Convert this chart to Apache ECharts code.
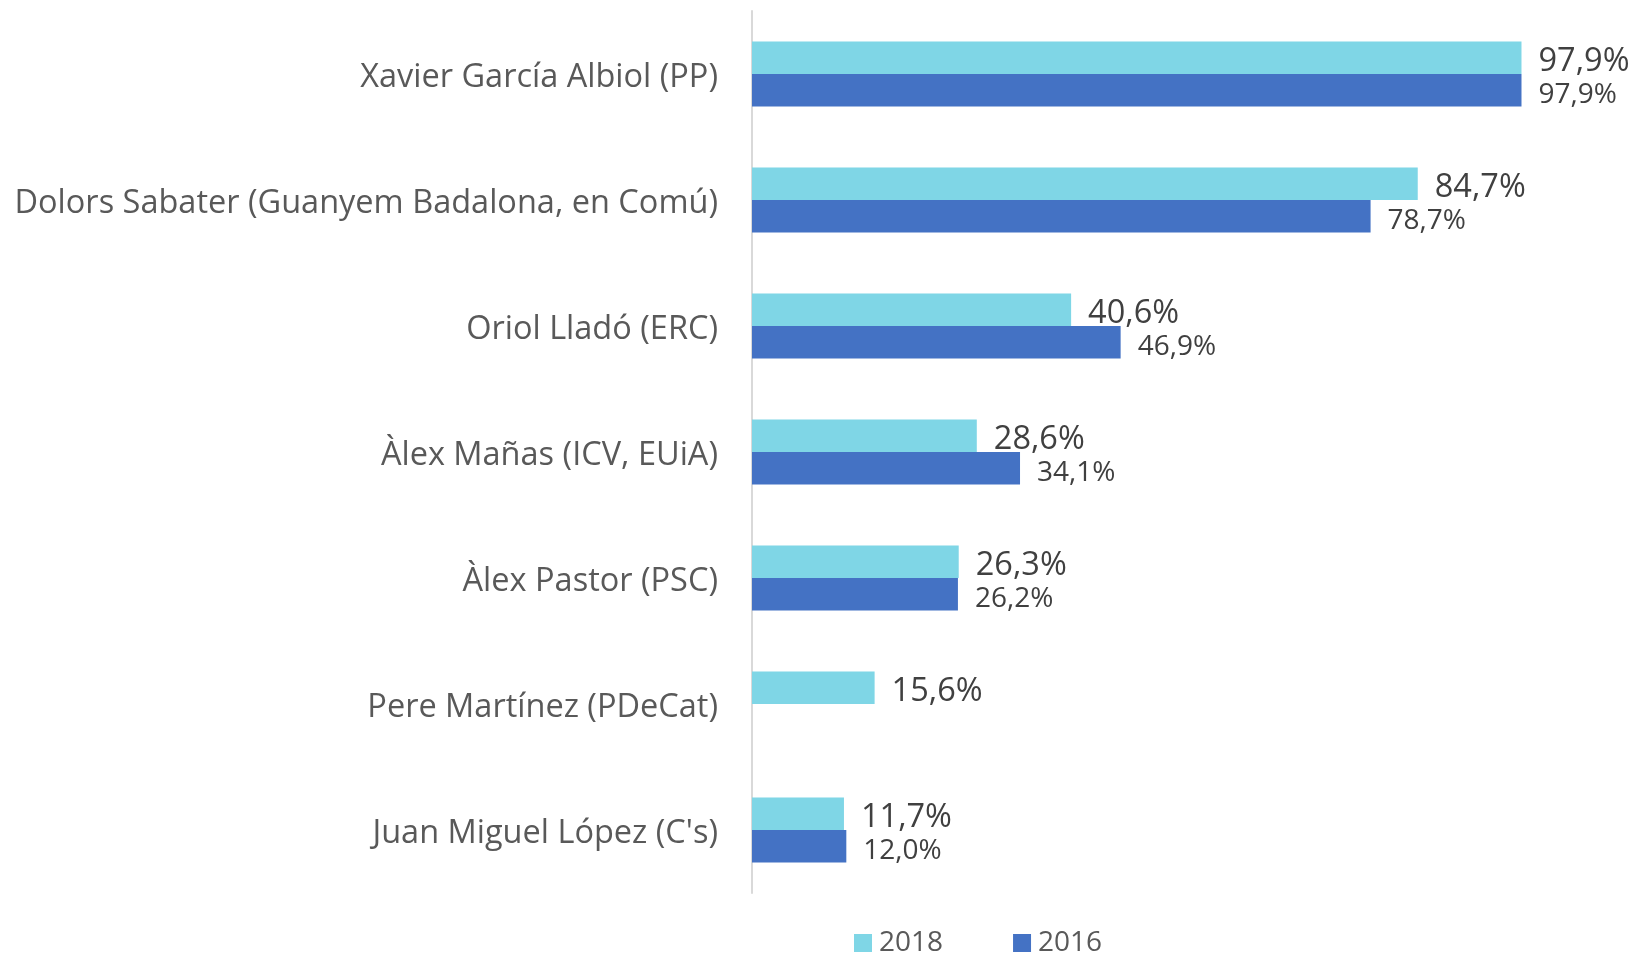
<!DOCTYPE html>
<html>
<head>
<meta charset="utf-8">
<script src="https://cdn.jsdelivr.net/npm/echarts@6/dist/echarts.min.js"></script>
<style>
html,body{margin:0;padding:0;background:#fff;}
#chart{width:1634px;height:955px;}
</style>
</head>
<body>
<div id="chart"></div>
<script>
const categories = [
  "Xavier García Albiol (PP)",
  "Dolors Sabater (Guanyem Badalona, en Comú)",
  "Oriol Lladó (ERC)",
  "Àlex Mañas (ICV, EUiA)",
  "Àlex Pastor (PSC)",
  "Pere Martínez (PDeCat)",
  "Juan Miguel López (C's)"
];
const values2018 = [97.9, 84.7, 40.6, 28.6, 26.3, 15.6, 11.7];
const values2016 = [97.9, 78.7, 46.9, 34.1, 26.2, null, 12.0];
const seriesNames = ["2018", "2016"];

const fmt = p => p.value == null ? '' : p.value.toFixed(1).replace('.', ',') + '%';
const FONT = "Open Sans";

const chart = echarts.init(document.getElementById('chart'), null, {renderer: 'canvas'});
chart.setOption({
  animation: false,
  backgroundColor: '#ffffff',
  grid: {left: 752, right: 96, top: 11, bottom: 62, containLabel: false},
  legend: {
    data: seriesNames,
    left: 849, top: 924,
    itemWidth: 18, itemHeight: 18, itemGap: 70,
    icon: 'rect',
    textStyle: {fontFamily: FONT, fontSize: 28, color: '#595959', padding: [0,0,0,2]}
  },
  xAxis: {
    type: 'value', min: 0, max: 100,
    show: false
  },
  yAxis: {
    type: 'category', data: categories, inverse: true,
    axisLine: {show: true, lineStyle: {color: '#d9d9d9', width: 2}},
    axisTick: {show: false},
    axisLabel: {
      margin: 34,
      formatter: v => '{c|' + v + '}',
      rich: {c: {fontFamily: FONT, fontSize: 32.5, color: '#595959', padding: [7,0,0,0]}}
    }
  },
  series: [
    {
      name: seriesNames[0], type: 'bar', data: values2018,
      barWidth: 32.5, barGap: '0%',
      itemStyle: {color: '#7fd6e6'},
      label: {show: true, position: 'right', distance: 17, formatter: fmt, offset: [0, 4],
              fontFamily: FONT, fontSize: 32.5, color: '#404040'}
    },
    {
      name: seriesNames[1], type: 'bar', data: values2016,
      barWidth: 32.5, barGap: '0%',
      itemStyle: {color: '#4472c4'},
      label: {show: true, position: 'right', distance: 17, formatter: fmt, offset: [0, 5],
              fontFamily: FONT, fontSize: 28, color: '#404040'}
    }
  ]
});
</script>
</body>
</html>
